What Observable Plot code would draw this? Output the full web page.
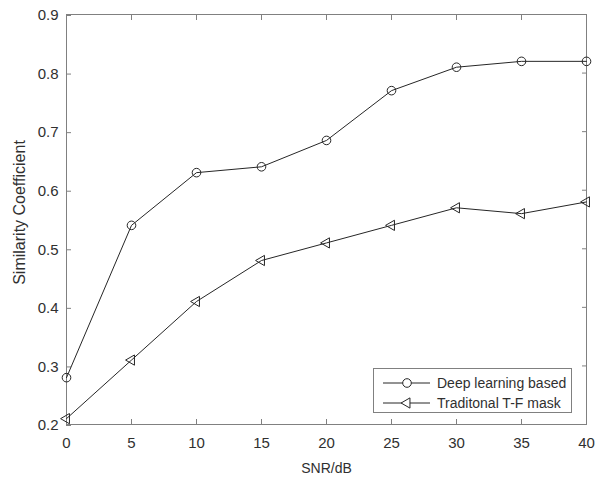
<!DOCTYPE html>
<html>
<head>
<meta charset="utf-8">
<script src="https://cdn.jsdelivr.net/npm/d3@7"></script>
<script src="https://cdn.jsdelivr.net/npm/@observablehq/plot@0.6"></script>
<style>
  body { margin: 0; background: #fff; }
  #wrap { position: relative; width: 596px; height: 477px; font-family: "Liberation Sans", Arial, Helvetica, sans-serif; }
  #legend { position: absolute; left: 373px; top: 368px; }
</style>
</head>
<body>
<div id="wrap"></div>
<script>
const snr = [0, 5, 10, 15, 20, 25, 30, 35, 40];
const deepLearning = [0.28, 0.54, 0.63, 0.64, 0.685, 0.77, 0.81, 0.82, 0.82];
const traditional = [0.21, 0.31, 0.41, 0.48, 0.51, 0.54, 0.57, 0.56, 0.58];
const xTicks = [0, 5, 10, 15, 20, 25, 30, 35, 40];
const yTicks = [0.2, 0.3, 0.4, 0.5, 0.6, 0.7, 0.8, 0.9];
const seriesNames = ["Deep learning based", "Traditonal T-F mask"];
const xLabel = "SNR/dB";
const yLabel = "Similarity Coefficient";

const dlData = snr.map((x, i) => ({x, y: deepLearning[i]}));
const trData = snr.map((x, i) => ({x, y: traditional[i]}));

const frameColor = "#808080";
const textColor = "#303030";
const lineColor = "#262626";
const font = '"Liberation Sans", Arial, Helvetica, sans-serif';

const chart = Plot.plot({
  width: 596,
  height: 477,
  marginLeft: 66,
  marginRight: 10,
  marginTop: 14,
  marginBottom: 53,
  style: {fontFamily: font, fontSize: "15px", background: "#fff", color: textColor, overflow: "visible"},
  x: {domain: [0, 40], label: null},
  y: {domain: [0.2, 0.9], label: null},
  marks: [
    Plot.frame({stroke: frameColor, strokeWidth: 1}),
    Plot.axisX({ticks: xTicks, anchor: "bottom", tickSize: -5, tickPadding: 18, tickFormat: d => String(d), label: null, stroke: frameColor, fill: textColor, fontSize: 15, ariaLabel: "xticklabels"}),
    Plot.axisX({ticks: xTicks, anchor: "top", tickSize: -5, tickFormat: () => "", label: null, stroke: frameColor}),
    Plot.axisY({ticks: yTicks, anchor: "left", tickSize: -5, tickPadding: 13, tickFormat: d3.format(".1f"), label: null, stroke: frameColor, fill: textColor, fontSize: 15, dy: 1, ariaLabel: "yticklabels"}),
    Plot.axisY({ticks: yTicks, anchor: "right", tickSize: -5, tickFormat: () => "", label: null, stroke: frameColor}),
    Plot.text([xLabel], {text: d => d, frameAnchor: "bottom", textAnchor: "middle", lineAnchor: "middle", dy: 44.5, fontSize: 14, fill: textColor, ariaLabel: "xlabel"}),
    Plot.text([yLabel], {text: d => d, frameAnchor: "left", textAnchor: "middle", lineAnchor: "middle", dx: -46.5, dy: -7, rotate: -90, fontSize: 16, fill: textColor, ariaLabel: "ylabel"}),
    Plot.line(dlData, {x: "x", y: "y", stroke: lineColor, strokeWidth: 1}),
    Plot.dot(dlData, {x: "x", y: "y", r: 4.3, stroke: lineColor, fill: "none", strokeWidth: 1}),
    Plot.line(trData, {x: "x", y: "y", stroke: lineColor, strokeWidth: 1}),
    Plot.dot(trData, {x: "x", y: "y", r: 3.8, symbol: "triangle", rotate: -90, stroke: lineColor, fill: "none", strokeWidth: 1})
  ]
});

// make sure font sizes are applied on the text groups
const sel = d3.select(chart);
sel.selectAll('g[aria-label="xticklabels"], g[aria-label="yticklabels"]').attr("font-size", 15).selectAll("text").attr("font-size", 15);
sel.selectAll('g[aria-label="xlabel"]').attr("font-size", 14).selectAll("text").attr("font-size", 14);
sel.selectAll('g[aria-label="ylabel"]').attr("font-size", 16).selectAll("text").attr("font-size", 16);

const wrap = document.getElementById("wrap");
wrap.appendChild(chart);

// Legend (MATLAB-style box)
const lw = 199, lh = 45;
const legend = d3.create("svg")
  .attr("id", "legend")
  .attr("width", lw)
  .attr("height", lh)
  .style("font-family", font)
  .style("font-size", "14px");
legend.append("rect").attr("x", 0.5).attr("y", 0.5).attr("width", lw - 1).attr("height", lh - 1)
  .attr("fill", "#fff").attr("stroke", frameColor);
const rowsY = [15, 35];
seriesNames.forEach((name, i) => {
  const g = legend.append("g").attr("transform", `translate(0,${rowsY[i]})`);
  g.append("line").attr("x1", 10).attr("x2", 57).attr("y1", 0).attr("y2", 0).attr("stroke", lineColor);
  if (i === 0) {
    g.append("circle").attr("cx", 34).attr("cy", 0).attr("r", 4.3).attr("fill", "#fff").attr("stroke", lineColor);
  } else {
    g.append("path").attr("transform", "translate(34,0) rotate(-90)")
      .attr("d", d3.symbol(d3.symbolTriangle, Math.PI * 3.8 * 3.8)())
      .attr("fill", "#fff").attr("stroke", lineColor);
  }
  g.append("text").attr("x", 64).attr("y", 0).attr("dy", "0.35em").attr("fill", textColor).text(name);
});
wrap.appendChild(legend.node());
</script>
</body>
</html>
